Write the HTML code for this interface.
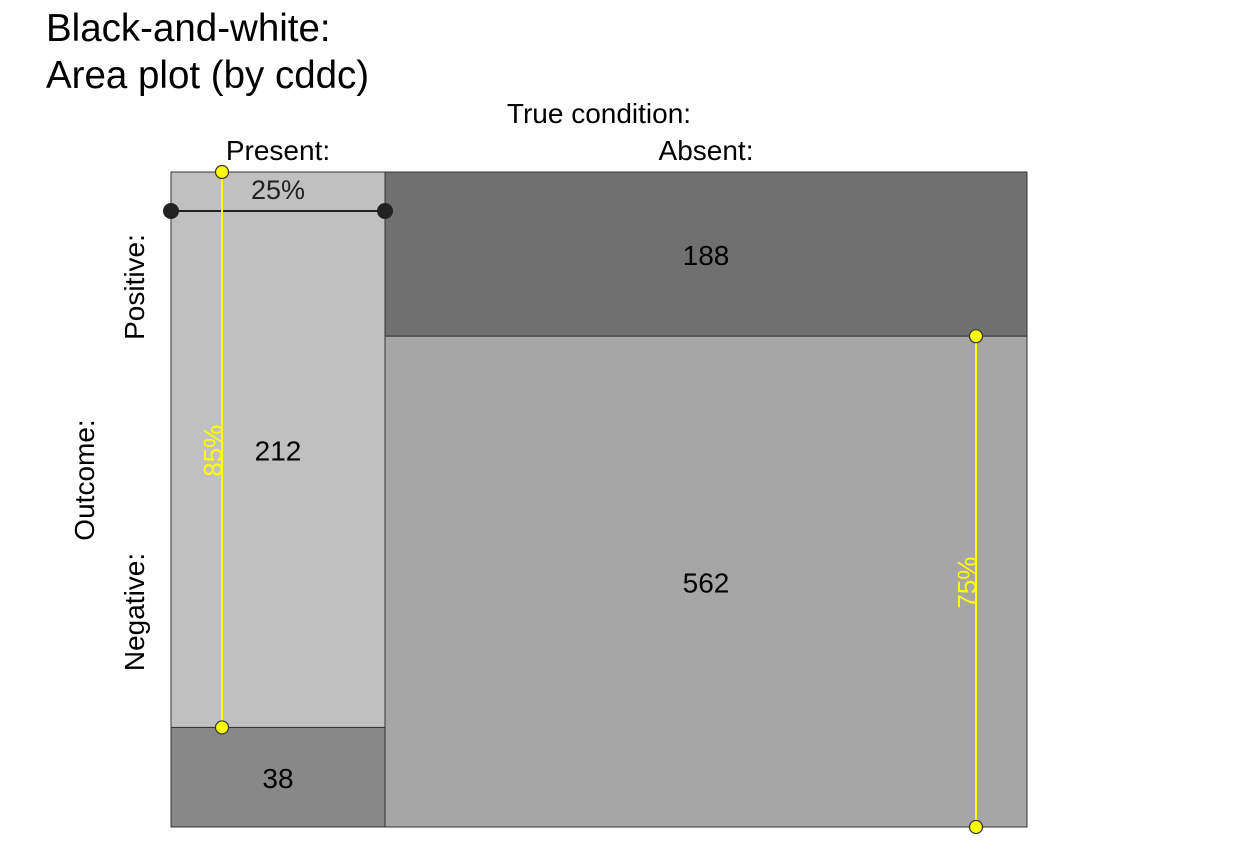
<!DOCTYPE html>
<html><head><meta charset="utf-8"><style>
body{margin:0;background:#fff;}
svg{display:block;font-family:"Liberation Sans",sans-serif;}
</style></head><body>
<svg id="chart" width="1248" height="864" viewBox="0 0 1248 864">
<text x="46" y="41" font-size="38.5" fill="#000">Black-and-white:</text>
<text x="46" y="88" font-size="38.5" fill="#000">Area plot (by cddc)</text>
<text x="599" y="123" font-size="28" text-anchor="middle">True condition:</text>
<text x="278" y="160" font-size="28" text-anchor="middle">Present:</text>
<text x="706" y="160" font-size="28" text-anchor="middle">Absent:</text>
<text transform="translate(94,480) rotate(-90)" font-size="28" text-anchor="middle">Outcome:</text>
<text transform="translate(144,287) rotate(-90)" font-size="28" text-anchor="middle">Positive:</text>
<text transform="translate(144,612) rotate(-90)" font-size="28" text-anchor="middle">Negative:</text>
<g id="marks"></g>
</svg>
<script>
const cells = ["hi","mi","fa","cr"];
const counts = [212, 38, 188, 562];
const fills = ["#c0c0c0","#888888","#707070","#a6a6a6"];
const X0=171, W=856, Y0=172, H=655;
const NS="http://www.w3.org/2000/svg";
const g=document.getElementById("marks");
function el(t,a){const e=document.createElementNS(NS,t);for(const k in a)e.setAttribute(k,a[k]);g.appendChild(e);return e;}
const total=counts.reduce((a,b)=>a+b,0);
const pres=counts[0]+counts[1], abs=counts[2]+counts[3];
const xs=v=>X0+v*W, ys=v=>Y0+v*H;
const pw=pres/total;
const cols=[{x0:0,x1:pw,top:counts[0]/pres,idx:[0,1]},{x0:pw,x1:1,top:counts[2]/abs,idx:[2,3]}];
cols.forEach((c,ci)=>{
  const parts=[[0,c.top],[c.top,1]];
  parts.forEach((p,pi)=>{
    const i=c.idx[pi];
    const r=el("rect",{x:xs(c.x0),y:ys(p[0]),width:xs(c.x1)-xs(c.x0),height:ys(p[1])-ys(p[0]),fill:fills[i],stroke:"#333","stroke-width":1});
    
    
    const t=el("text",{x:(xs(c.x0)+xs(c.x1))/2,y:(ys(p[0])+ys(p[1]))/2+11,"font-size":28,"text-anchor":"middle",fill:"#000"});
    t.textContent=counts[i];
    
    
  });
});
const py=211;
const pl=el("line",{x1:xs(0),y1:py,x2:xs(pw),y2:py,stroke:"#222","stroke-width":2});


[xs(0),xs(pw)].forEach(x=>{const c=el("circle",{cx:x,cy:py,r:8,fill:"#222"});

});
const pt=el("text",{x:(xs(0)+xs(pw))/2,y:199,"font-size":27,"text-anchor":"middle",fill:"#222"});
pt.textContent=Math.round(pw*100)+"%";


const sens=counts[0]/pres, spec=counts[3]/abs;
const lines=[{x:xs(0)+51,y1:ys(0),y2:ys(sens),v:sens,n:'sensitivity'},{x:xs(1)-51,y1:ys(cols[1].top),y2:ys(1),v:spec,n:'specificity'}];
lines.forEach(l=>{
  const ln=el("line",{x1:l.x,y1:l.y1,x2:l.x,y2:l.y2,stroke:"#ffff00","stroke-width":2});
  
  
  [l.y1,l.y2].forEach(y=>{const c=el("circle",{cx:l.x,cy:y,r:6.5,fill:"#ffff00",stroke:"#333","stroke-width":1.2});
  
  });
  const ym=(l.y1+l.y2)/2+1;
  const t=el("text",{transform:`translate(${l.x},${ym}) rotate(-90)`,"font-size":26,"text-anchor":"middle",fill:"#ffff00"});
  t.textContent=Math.round(l.v*100)+"%";
  
  
});
</script>
</body></html>
